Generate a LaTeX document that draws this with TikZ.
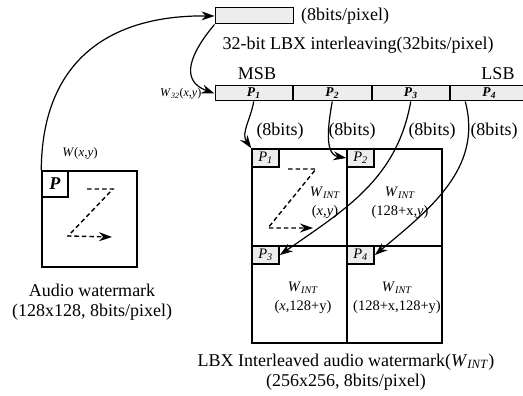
\documentclass[tikz,border=0pt]{standalone}
\usepackage{fontspec}
\setmainfont{Liberation Serif}
\usetikzlibrary{arrows.meta,positioning}
\definecolor{lbxgrey}{HTML}{EDEDED}
\tikzset{
  >={Stealth[length=13pt,width=9pt]},
  x=1pt,y=1pt,
  lbl/.style={font=\fontsize{18}{20}\selectfont,inner sep=0pt},
  tag/.style={font=\fontsize{13}{15}\selectfont,inner sep=0pt},
  wint/.style={font=\fontsize{14.5}{19}\selectfont,inner sep=0pt,align=center},
  cell/.style={draw,line width=1.5pt,inner sep=0pt,minimum width=95pt,minimum height=97pt},
  seg/.style={draw,line width=1pt,fill=lbxgrey,inner sep=0pt,minimum width=77.5pt,
              minimum height=15pt,font=\fontsize{13.5}{15}\selectfont},
  pbox/.style={draw,line width=1.6pt,fill=lbxgrey,inner sep=0pt,minimum width=27pt,
               minimum height=18pt,font=\fontsize{14.5}{15}\selectfont},
  flow/.style={->,line width=1.2pt},
  zpath/.style={->,dashed,line width=1.4pt,dash pattern=on 4.5pt off 3pt},
}
\newcommand{\wint}{\textit{W}\textsubscript{\textit{INT}}}
\begin{document}
\begin{tikzpicture}
  \useasboundingbox (0,0) rectangle (523,-396);

  % source watermark W(x,y)
  \node[cell,minimum height=96pt] (wm) at (89.5,-219) {};
  \node[pbox,fill=white,minimum width=26pt,minimum height=26pt,anchor=north west,
        font=\fontsize{18}{18}\selectfont] (wp) at (wm.north west) {\textbf{\textit{P}}};
  \node[tag] (wxy) at (80,-153) {\textit{W}(\textit{x},\textit{y})};
  \draw[zpath] (87,-189) -- (113,-189) -- (68,-236) -- (112,-237);
  \node[lbl,align=center] (wmcap) at (92,-302) {Audio watermark\\(128x128, 8bits/pixel)};

  % 8-bit pixel and the 32-bit word
  \node[seg,minimum width=78pt,minimum height=16pt] (pix) at (254,-16) {};
  \node[lbl,anchor=west] (pixlbl) at (301,-16) {(8bits/pixel)};
  \node[lbl] (title) at (358,-45) {32-bit LBX interleaving(32bits/pixel)};
  \node[lbl] (msb) at (257,-74) {MSB};
  \node[lbl] (lsb) at (498,-74) {LSB};

  \node[seg] (b1) at (253.75,-93.5) {\textbf{\textit{P}}\textsubscript{\textbf{\textit{1}}}};
  \node[seg,right=0pt of b1] (b2) {\textbf{\textit{P}}\textsubscript{\textbf{\textit{2}}}};
  \node[seg,right=0pt of b2] (b3) {\textbf{\textit{P}}\textsubscript{\textbf{\textit{3}}}};
  \node[seg,right=0pt of b3] (b4) {\textbf{\textit{P}}\textsubscript{\textbf{\textit{4}}}};
  \node[tag,anchor=east,font=\fontsize{12}{13}\selectfont] (w32) at ([xshift=-13pt]b1.west)
    {\textit{W}\textsubscript{\textit{32}}(\textit{x},\textit{y})};

  % interleaved 256x256 watermark
  \node[cell] (q1) at (299.5,-197.5) {};
  \node[cell] (q2) at (394.5,-197.5) {};
  \node[cell] (q3) at (299.5,-294.5) {};
  \node[cell] (q4) at (394.5,-294.5) {};
  \node[pbox,anchor=north west] (p1) at (q1.north west) {\textit{P}\textsubscript{\textit{1}}};
  \node[pbox,anchor=north west] (p2) at (q2.north west) {\textit{P}\textsubscript{\textit{2}}};
  \node[pbox,anchor=north west] (p3) at (q3.north west) {\textit{P}\textsubscript{\textit{3}}};
  \node[pbox,anchor=north west] (p4) at (q4.north west) {\textit{P}\textsubscript{\textit{4}}};
  \draw[zpath] (288,-169) -- (316,-169) -- (268,-228) -- (313,-228);

  \node[wint] (w1) at (325,-203) {\wint\\(\textit{x},\textit{y})};
  \node[wint] (w2) at (400,-203) {\wint\\(128+x,\textit{y})};
  \node[wint] (w3) at (303,-298) {\wint\\(\textit{x},128+y)};
  \node[wint] (w4) at (397,-298) {\wint\\(128+x,128+y)};
  \node[lbl,align=center] (cap) at (346,-372)
    {LBX Interleaved audio watermark(\wint)\\(256x256, 8bits/pixel)};

  % connectors
  \draw[flow] (wm.north west) .. controls (42,-60) and (110,-15) .. (pix.west);
  \draw[flow] (pix.south west) to[out=-130,in=160,looseness=1.4] (b1.west);
  \draw[flow] (b1.south) to[out=-100,in=125] (p1.north west);
  \draw[flow] (b2.south) to[out=-100,in=170] (p2.west);
  \draw[flow] (b3.south) to[out=-100,in=35] (p3.east);
  \draw[flow] ([xshift=-24pt]b4.south) to[out=-75,in=40] (p4.east);

  \node[lbl] (n1) at (280,-131) {(8bits)};
  \node[lbl] (n2) at (352,-131) {(8bits)};
  \node[lbl] (n3) at (432,-131) {(8bits)};
  \node[lbl] (n4) at (494,-131) {(8bits)};
\end{tikzpicture}
\end{document}
